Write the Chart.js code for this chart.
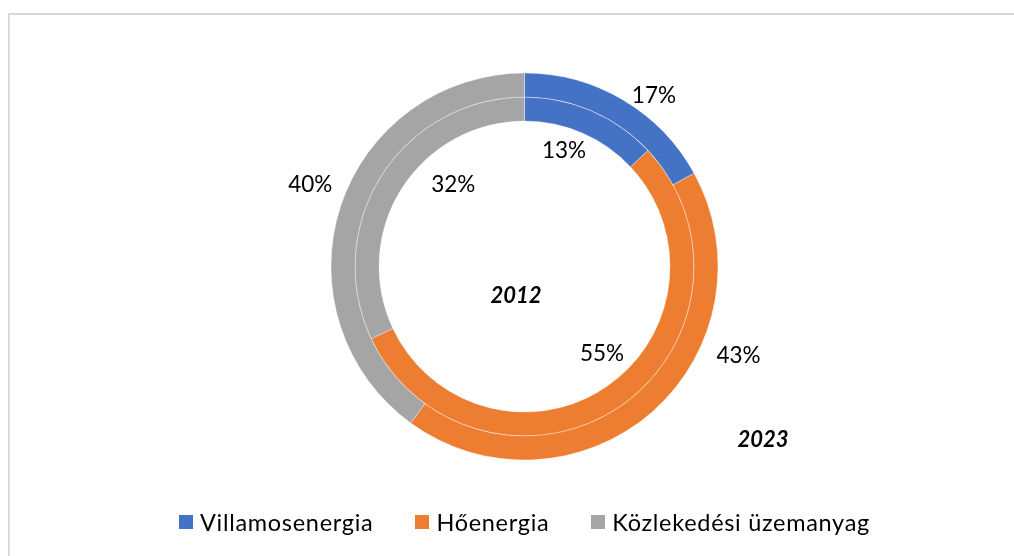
<!DOCTYPE html>
<html><head><meta charset="utf-8">
<script src="https://cdn.jsdelivr.net/npm/chart.js@4"></script>
<style>
html,body{margin:0;padding:0;width:1014px;height:556px;overflow:hidden;background:#fff;}
#frame{position:absolute;left:8px;top:13px;width:1030px;height:570px;border:2px solid #d9d9d9;box-sizing:border-box;}
#wrap{position:absolute;left:0;top:0;width:1014px;height:556px;}
#legend{position:absolute;left:35px;right:0;top:508px;display:flex;justify-content:center;font-family:Lato,sans-serif;font-size:23.5px;letter-spacing:0.7px;line-height:28px;color:#000;}
.item{display:flex;align-items:center;margin:0 21px;white-space:nowrap;}
.box{width:14px;height:14px;margin-right:7px;flex:none;}
</style></head>
<body>
<div id="frame"></div>
<div id="wrap"><canvas id="c" width="1014" height="556"></canvas></div>
<div id="legend"></div>
<script>
const categories = ['Villamosenergia', 'Hőenergia', 'Közlekedési üzemanyag'];
const years = ['2023', '2012'];
const values2023 = [17, 43, 40];
const values2012 = [13, 55, 32];
const colors = ['#4472C4', '#ED7D31', '#A5A5A5'];

// label offsets (px) from each arc's centre point
const labelOffsets = [
  [[37, -14.5], [94, -47], [-41.6, -25.5]],
  [[-23, 29], [-11, -43.5], [61.7, 3]]
];
const yearOffsets = [[238.5, 173.5], [-8.5, 29.5]];

const labelPlugin = {
  id: 'ringLabels',
  afterDatasetsDraw(chart) {
    const ctx = chart.ctx;
    ctx.save();
    ctx.textAlign = 'center';
    ctx.textBaseline = 'middle';
    ctx.fillStyle = '#000';
    chart.data.datasets.forEach((ds, di) => {
      const meta = chart.getDatasetMeta(di);
      ctx.font = '22.5px Lato';
      meta.data.forEach((arc, i) => {
        const p = arc.getCenterPoint();
        const o = labelOffsets[di][i];
        ctx.fillText(ds.data[i] + '%', p.x + o[0], p.y + o[1]);
      });
      const a = meta.data[0];
      ctx.font = 'italic bold 22px Lato';
      ctx.fillText(ds.label, a.x + yearOffsets[di][0], a.y + yearOffsets[di][1]);
    });
    ctx.restore();
  }
};

new Chart(document.getElementById('c'), {
  type: 'doughnut',
  data: {
    labels: categories,
    datasets: [
      { label: years[0], data: values2023, backgroundColor: colors },
      { label: years[1], data: values2012, backgroundColor: colors }
    ]
  },
  options: {
    responsive: false,
    animation: false,
    cutout: '75.2%',
    layout: { padding: { top: 72.5, bottom: 95.5, left: 35, right: 0 } },
    elements: { arc: { borderWidth: 1, borderColor: 'rgba(255,255,255,0.35)', hoverOffset: 0, offset: 0 } },
    plugins: { legend: { display: false }, tooltip: { enabled: false } }
  },
  plugins: [labelPlugin]
});

const lg = document.getElementById('legend');
categories.forEach((c, i) => {
  const it = document.createElement('div');
  it.className = 'item';
  const b = document.createElement('span');
  b.className = 'box';
  b.style.background = colors[i];
  const t = document.createElement('span');
  t.textContent = c;
  it.appendChild(b); it.appendChild(t);
  lg.appendChild(it);
});
</script>
</body></html>
